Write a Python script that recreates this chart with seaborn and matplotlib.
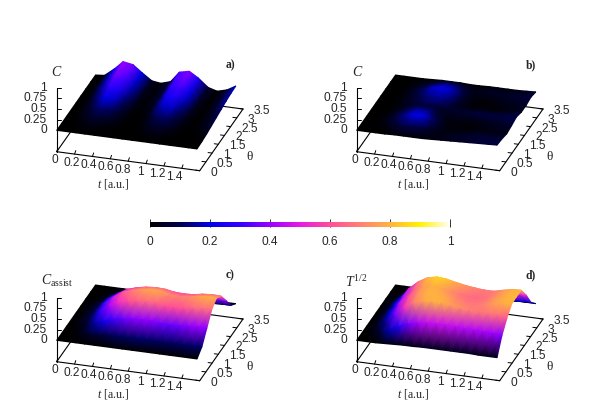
import numpy as np
import matplotlib
matplotlib.use('Agg')
import matplotlib.pyplot as plt
from matplotlib.cm import ScalarMappable
from matplotlib.colors import Normalize
import seaborn as sns

# grid the surfaces were read on
t_grid = [0, 0.1, 0.21, 0.31, 0.42, 0.52, 0.63, 0.73, 0.84, 0.94, 1.05, 1.15, 1.26, 1.36, 1.47, 1.57]
theta_grid = [0, 0.39, 0.79, 1.18, 1.57, 1.96, 2.36, 2.75, 3.14]

surface_a = [
    [0, 0, 0, 0, 0, 0, 0, 0, 0, 0, 0, 0, 0, 0, 0, 0],
    [0, 0, .01, .02, .01, .01, 0, 0, 0, .01, .02, .01, 0, 0, 0, .01],
    [0, 0, .03, .06, .05, .03, .01, 0, .01, .05, .06, .04, .01, 0, .01, .03],
    [0, .01, .06, .12, .11, .06, .01, 0, .02, .1, .12, .08, .02, 0, .02, .06],
    [0, .01, .1, .2, .18, .1, .02, 0, .04, .16, .19, .12, .03, 0, .03, .09],
    [0, .01, .14, .27, .25, .14, .03, .01, .06, .22, .26, .17, .04, 0, .04, .12],
    [0, .02, .17, .34, .31, .17, .03, .01, .07, .27, .32, .21, .05, 0, .05, .15],
    [0, .02, .19, .38, .35, .19, .04, .01, .08, .31, .36, .24, .06, 0, .06, .17],
    [0, .02, .2, .4, .36, .2, .04, .01, .08, .33, .38, .25, .06, 0, .06, .18],
]
surface_b = [
    [0, 0, 0, 0, .01, .01, .01, .01, .02, .03, .04, .05, .06, .07, .08, .09],
    [0, 0, .01, .03, .07, .1, .1, .06, .03, .03, .04, .05, .06, .07, .07, .07],
    [0, 0, .02, .07, .14, .2, .2, .12, .04, .01, .01, .01, .02, .02, .03, .03],
    [0, 0, .01, .05, .11, .15, .14, .07, .02, .02, .02, .02, .03, .04, .05, .06],
    [0, 0, .01, .03, .06, .07, .07, .05, .05, .06, .07, .08, .08, .08, .09, .1],
    [0, 0, .01, .04, .08, .13, .15, .13, .06, .02, .01, .01, .01, .02, .03, .05],
    [0, 0, .01, .05, .11, .18, .21, .18, .09, .03, .01, .01, .02, .03, .04, .05],
    [0, 0, .01, .03, .06, .1, .13, .11, .06, .03, .04, .05, .05, .06, .07, .08],
    [0, 0, 0, 0, .01, .02, .02, .02, .01, .01, .02, .02, .02, .02, .03, .04],
]
surface_c = [
    [0, 0, 0, 0, 0, 0, 0, 0, 0, 0, 0, 0, 0, 0, 0, 0],
    [0, 0, .02, .05, .07, .09, .11, .11, .12, .12, .11, .11, .11, .11, .12, .12],
    [0, .01, .05, .15, .24, .31, .35, .38, .39, .39, .36, .35, .36, .38, .4, .39],
    [0, .02, .09, .26, .41, .53, .6, .64, .66, .65, .61, .6, .61, .65, .67, .66],
    [0, .02, .1, .3, .48, .62, .7, .75, .78, .77, .72, .7, .72, .76, .79, .78],
    [0, .02, .09, .26, .41, .53, .6, .64, .66, .65, .61, .6, .61, .65, .67, .66],
    [0, .01, .05, .15, .24, .31, .35, .38, .39, .39, .36, .35, .36, .38, .4, .39],
    [0, 0, .02, .05, .07, .09, .11, .11, .12, .12, .11, .11, .11, .11, .12, .12],
    [0, 0, 0, 0, 0, 0, 0, 0, 0, 0, 0, 0, 0, 0, 0, 0],
]
surface_d = [
    [0, 0, 0, .01, .02, .03, .03, .04, .04, .04, .04, .04, .04, .03, .03, .03],
    [0, .01, .06, .17, .28, .37, .42, .45, .46, .46, .45, .44, .43, .42, .41, .38],
    [0, .03, .14, .34, .54, .69, .77, .8, .79, .76, .73, .7, .68, .68, .67, .62],
    [0, .04, .2, .44, .62, .74, .8, .8, .77, .72, .69, .68, .7, .75, .79, .8],
    [0, .04, .22, .46, .64, .75, .79, .77, .72, .68, .66, .66, .69, .75, .8, .81],
    [0, .05, .22, .48, .68, .8, .85, .83, .78, .74, .71, .69, .69, .74, .79, .8],
    [0, .03, .15, .33, .48, .56, .6, .58, .53, .49, .46, .45, .45, .48, .52, .52],
    [0, .01, .05, .12, .17, .2, .22, .21, .19, .17, .16, .16, .16, .17, .19, .19],
    [0, 0, 0, 0, 0, 0, 0, 0, 0, 0, 0, 0, 0, 0, 0, 0],
]

t_ticks = [0, 0.2, 0.4, 0.6, 0.8, 1, 1.2, 1.4]
t_labels = ['0', '0.2', '0.4', '0.6', '0.8', '1', '1.2', '1.4']
theta_ticks = [0, 0.5, 1, 1.5, 2, 2.5, 3, 3.5]
theta_labels = ['0', '0.5', '1', '1.5', '2', '2.5', '3', '3.5']
z_ticks = [0, 0.25, 0.5, 0.75, 1]
z_labels = ['0', '0.25', '0.5', '0.75', '1']
bar_ticks = [0, 0.2, 0.4, 0.6, 0.8, 1]
bar_labels = ['0', '0.2', '0.4', '0.6', '0.8', '1']
palette_colors = ['#000000', '#00004d', '#0000e6', '#3300ff', '#9900ff', '#e61ae6',
                  '#ff4d99', '#ff8073', '#ffb340', '#fff200', '#fffff0']

sns.set_theme(style='white')
plt.rcParams['font.family'] = ['Liberation Sans', 'DejaVu Sans']
plt.rcParams['mathtext.fontset'] = 'custom'
plt.rcParams['mathtext.rm'] = 'Liberation Serif'
plt.rcParams['mathtext.it'] = 'Liberation Serif:italic'

cmap = sns.blend_palette(palette_colors, as_cmap=True)
TICK_SIZE = 8.6
SERIF = ['Liberation Serif', 'DejaVu Serif']


def project(t, theta, z):
    # gnuplot style view, result is in pixels from the front corner of the base
    t, theta, z = np.asarray(t, float), np.asarray(theta, float), np.asarray(z, float)
    x = 143 * t / 1.6 + 43.3 * theta / 3.5
    y = -19 * t / 1.6 + 61.7 * theta / 3.5 + (z + 0.5) * 42.7
    return x, y


def draw_panel(fig, ox, oy, values, zlabel, tag, tag_pos):
    ax = fig.add_axes([(ox - 55) / 600, 1 - (oy + 40) / 420, 270 / 600, 150 / 420])
    ax.set_xlim(-55, 215)
    ax.set_ylim(-40, 110)
    ax.axis('off')

    # base frame and z axis
    for t0, th0, t1, th1 in [(0, 0, 1.6, 0), (1.6, 0, 1.6, 3.5), (1.6, 3.5, 0, 3.5), (0, 3.5, 0, 0)]:
        xs, ys = project([t0, t1], [th0, th1], [-0.5, -0.5])
        ax.plot(xs, ys, color='black', lw=0.8, zorder=1)
    xs, ys = project([0, 0], [0, 0], [-0.5, 1])
    ax.plot(xs, ys, color='black', lw=0.8, zorder=1)

    for tv, lab in zip(t_ticks, t_labels):
        x, y = project(tv, 0, -0.5)
        ax.plot([x, x + 1.2], [y, y + 3.5], color='black', lw=0.7, zorder=1)
        ax.text(x - 1.5 - 4.5 * tv, y - 8.5, lab, ha='center', va='center', fontsize=TICK_SIZE)
    for th, lab in zip(theta_ticks, theta_labels):
        x, y = project(1.6, th, -0.5)
        ax.plot([x, x - 4], [y, y + 0.5], color='black', lw=0.7, zorder=1)
        ax.text(x + 10.5, y - 2, lab, ha='left', va='center', fontsize=TICK_SIZE)
    for zv, lab in zip(z_ticks, z_labels):
        x, y = project(0, 0, zv)
        ax.plot([x, x + 4], [y, y], color='black', lw=0.7, zorder=1)
        ax.text(x - 10, y, lab, ha='right', va='center', fontsize=TICK_SIZE)

    # back rows first so nearer rows paint over them
    T, TH = np.meshgrid(t_grid, theta_grid)
    Z = np.array(values, float)
    X2, Y2 = project(T, TH, Z)
    ax.pcolormesh(X2[::-1], Y2[::-1], Z[::-1], shading='gouraud', cmap=cmap,
                  vmin=0, vmax=1, zorder=2, rasterized=True)

    ax.text(56.6, -32.6, r'$t$ [a.u.]', ha='center', va='center', fontsize=8.6, family=SERIF)
    ax.text(193.3, 5.6 - 11, 'θ', ha='center', va='center', fontsize=9.5, family=SERIF)
    ax.text(zlabel[1], zlabel[2], zlabel[0], ha='center', va='center', fontsize=10, family=SERIF)
    ax.text(tag_pos[0], tag_pos[1], tag, ha='center', va='center', fontsize=8.4,
            family=SERIF, fontweight='bold')
    return ax


fig = plt.figure(figsize=(6, 4.2), dpi=100)

draw_panel(fig, 56.7, 151.7, surface_a, (r'$C$', 0, 80), 'a)', (174, 86))
draw_panel(fig, 356.7, 151.7, surface_b, (r'$C$', 0.6, 80), 'b)', (174.3, 86))
draw_panel(fig, 56.7, 361.7, surface_c, (r'$C_{\mathrm{assist}}$', 0.5, 81), 'c)', (173.3, 86))
draw_panel(fig, 356.7, 361.7, surface_d, (r'$T^{1/2}$', 0, 80), 'd)', (174.3, 86))

# colour bar between the two rows
cax = fig.add_axes([150 / 600, 1 - 227.5 / 420, 300 / 600, 5.5 / 420])
cb = fig.colorbar(ScalarMappable(norm=Normalize(0, 1), cmap=cmap), cax=cax, orientation='horizontal')
cb.set_ticks(bar_ticks)
cb.set_ticklabels(bar_labels)
cb.outline.set_visible(False)
cax.tick_params(axis='x', direction='in', length=5.5, width=0.7, color='#333333',
                labelsize=TICK_SIZE, pad=6, bottom=True)

fig.savefig('out.png', dpi=100)
